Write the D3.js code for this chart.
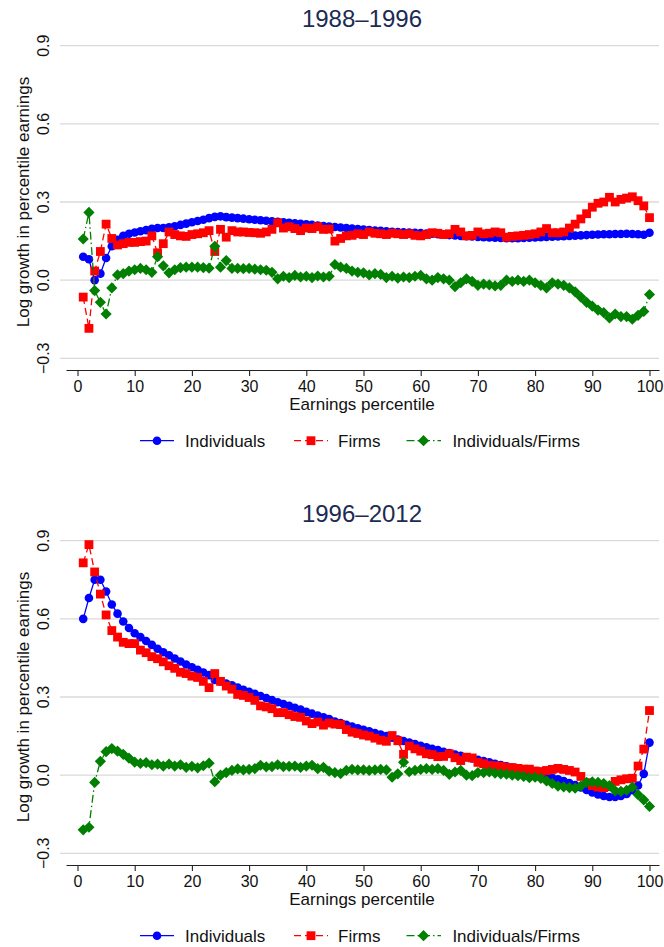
<!DOCTYPE html>
<html><head><meta charset="utf-8">
<script src="https://cdn.jsdelivr.net/npm/d3@7"></script>
<style>body{margin:0;background:#fff} svg{display:block;font-family:"Liberation Sans",Arial,Helvetica,sans-serif}</style>
</head><body><svg id="c" width="664" height="947"></svg>
<script>
const percentiles = d3.range(1, 101);
const xTicks = [0,10,20,30,40,50,60,70,80,90,100];
const yTicks = [-0.3,0,0.3,0.6,0.9];
const panelTitles = ["1988\u20131996","1996\u20132012"];
const seriesNames = ["Individuals","Firms","Individuals/Firms"];

const ind88 = [0.09,0.08,0.00,0.025,0.085,0.13,0.155,0.17,0.178,0.183,
0.188,0.192,0.197,0.2,0.2,0.203,0.207,0.212,0.217,0.222,
0.227,0.232,0.238,0.243,0.245,0.242,0.24,0.238,0.236,0.234,
0.232,0.23,0.228,0.226,0.224,0.222,0.22,0.218,0.216,0.214,
0.212,0.21,0.208,0.206,0.204,0.202,0.2,0.198,0.196,0.194,
0.192,0.19,0.189,0.188,0.186,0.185,0.184,0.183,0.182,0.181,
0.179,0.178,0.176,0.175,0.173,0.172,0.17,0.169,0.168,0.166,
0.165,0.164,0.163,0.162,0.161,0.161,0.161,0.162,0.163,0.164,
0.165,0.166,0.167,0.168,0.169,0.17,0.171,0.172,0.173,0.174,
0.175,0.176,0.176,0.177,0.177,0.178,0.177,0.176,0.174,0.182];

const firm88 = [-0.065,-0.185,0.035,0.11,0.215,0.16,0.135,0.14,0.145,0.145,
0.148,0.15,0.17,0.105,0.14,0.185,0.175,0.17,0.168,0.175,
0.178,0.182,0.19,0.11,0.195,0.165,0.19,0.185,0.185,0.183,
0.182,0.18,0.185,0.195,0.22,0.2,0.205,0.198,0.19,0.2,
0.198,0.205,0.195,0.196,0.15,0.16,0.17,0.172,0.178,0.175,
0.185,0.18,0.178,0.175,0.18,0.178,0.175,0.178,0.172,0.17,
0.175,0.182,0.18,0.175,0.178,0.195,0.185,0.17,0.172,0.185,
0.178,0.18,0.185,0.182,0.165,0.168,0.17,0.172,0.175,0.178,
0.185,0.198,0.182,0.182,0.185,0.2,0.215,0.235,0.255,0.28,
0.295,0.3,0.318,0.3,0.31,0.315,0.32,0.305,0.285,0.24];

const ratio88 = [0.158,0.26,-0.04,-0.085,-0.13,-0.03,0.02,0.025,0.035,0.04,
0.045,0.04,0.03,0.09,0.055,0.028,0.04,0.048,0.05,0.05,
0.05,0.048,0.046,0.13,0.05,0.075,0.045,0.045,0.044,0.045,
0.042,0.04,0.038,0.03,0.005,0.015,0.01,0.018,0.012,0.015,
0.01,0.016,0.012,0.015,0.06,0.05,0.045,0.035,0.03,0.028,
0.02,0.025,0.022,0.01,0.015,0.008,0.012,0.01,0.015,0.018,
0.005,0.0,0.01,0.005,0.0,-0.025,-0.01,0.005,-0.005,-0.02,
-0.015,-0.018,-0.022,-0.02,0.0,-0.005,0.0,-0.005,0.0,-0.01,
-0.02,-0.03,-0.01,-0.015,-0.02,-0.03,-0.045,-0.065,-0.085,-0.1,
-0.115,-0.125,-0.145,-0.13,-0.14,-0.14,-0.15,-0.135,-0.12,-0.055];

const ind96 = [0.6,0.68,0.75,0.75,0.705,0.655,0.62,0.59,0.565,0.545,
0.53,0.515,0.5,0.485,0.472,0.46,0.448,0.436,0.425,0.414,
0.404,0.394,0.384,0.365,0.36,0.352,0.345,0.336,0.328,0.32,
0.312,0.304,0.296,0.288,0.28,0.273,0.266,0.259,0.252,0.243,
0.236,0.229,0.222,0.215,0.206,0.2,0.193,0.187,0.18,0.174,
0.168,0.162,0.156,0.15,0.144,0.137,0.131,0.125,0.119,0.113,
0.107,0.101,0.096,0.09,0.085,0.079,0.074,0.069,0.064,0.059,
0.054,0.049,0.044,0.039,0.034,0.029,0.024,0.018,0.013,0.008,
0.002,-0.004,-0.01,-0.016,-0.023,-0.03,-0.038,-0.047,-0.057,-0.066,
-0.074,-0.08,-0.084,-0.084,-0.08,-0.072,-0.058,-0.04,0.005,0.125];

const firm96 = [0.815,0.885,0.78,0.695,0.615,0.555,0.53,0.51,0.505,0.505,
0.48,0.47,0.455,0.447,0.435,0.42,0.41,0.395,0.39,0.38,
0.375,0.36,0.336,0.39,0.36,0.342,0.33,0.31,0.306,0.298,
0.287,0.266,0.262,0.255,0.24,0.24,0.232,0.225,0.222,0.208,
0.198,0.204,0.192,0.2,0.196,0.194,0.175,0.165,0.16,0.154,
0.15,0.142,0.134,0.13,0.152,0.132,0.08,0.112,0.101,0.092,
0.082,0.079,0.071,0.072,0.082,0.067,0.056,0.069,0.066,0.049,
0.044,0.037,0.036,0.034,0.03,0.029,0.026,0.023,0.023,0.016,
0.014,0.018,0.022,0.026,0.022,0.018,0.012,-0.005,-0.029,-0.04,
-0.046,-0.048,-0.044,-0.024,-0.018,-0.014,-0.012,0.035,0.1,0.248];

const ratio96 = [-0.21,-0.2,-0.028,0.053,0.09,0.102,0.092,0.08,0.065,0.05,
0.045,0.048,0.04,0.042,0.035,0.042,0.035,0.04,0.03,0.034,
0.028,0.036,0.046,-0.025,0.0,0.01,0.018,0.024,0.02,0.022,
0.025,0.038,0.032,0.033,0.04,0.033,0.034,0.035,0.03,0.035,
0.038,0.025,0.03,0.015,0.01,0.006,0.018,0.022,0.02,0.02,
0.018,0.02,0.022,0.02,-0.008,0.005,0.05,0.013,0.018,0.022,
0.025,0.022,0.025,0.018,0.003,0.012,0.018,0.0,-0.002,0.01,
0.01,0.012,0.008,0.005,0.004,0.0,-0.002,-0.005,-0.01,-0.008,
-0.012,-0.022,-0.032,-0.042,-0.045,-0.048,-0.05,-0.042,-0.028,-0.026,
-0.028,-0.032,-0.04,-0.06,-0.062,-0.058,-0.046,-0.075,-0.095,-0.12];

const colors = ["#0000ff","#ff0000","#007f00"];
const dashes = [null,"7,4","8,3,1.5,3"];
const shapes = ["circle","square","diamond"];

const svg = d3.select("#c");
const x = d3.scaleLinear().domain([0,100]).range([77.5,649.5]);
const fmt = d3.format(".1f");

function marker(g, shape, cx, cy, col){
  if(shape==="circle") g.append("circle").attr("cx",cx).attr("cy",cy).attr("r",4.3).attr("fill",col);
  else if(shape==="square") g.append("rect").attr("x",cx-4.4).attr("y",cy-4.4).attr("width",8.8).attr("height",8.8).attr("fill",col);
  else g.append("path").attr("d",`M${cx},${cy-5.6}L${cx+5.6},${cy}L${cx},${cy+5.6}L${cx-5.6},${cy}Z`).attr("fill",col);
}

function panel(k, series){
  const dy = k*495;
  const g = svg.append("g");
  const y = d3.scaleLinear().domain([-0.3,0.9]).range([358.3+dy,45.7+dy]);
  // title
  g.append("text").attr("x",362).attr("y",26.5+dy).attr("text-anchor","middle")
   .attr("font-size",24).attr("fill","#1c2b52").text(panelTitles[k]);
  // gridlines
  g.selectAll(".grid").data(yTicks).enter().append("line")
   .attr("x1",60).attr("x2",659).attr("y1",d=>y(d)).attr("y2",d=>y(d))
   .attr("stroke","#dadada").attr("stroke-width",1.3);
  // y tick labels
  g.selectAll(".yl").data(yTicks).enter().append("text")
   .attr("transform",d=>`translate(48.5,${y(d)}) rotate(-90)`)
   .attr("text-anchor","middle").attr("font-size",16).attr("fill","#111")
   .text(d=>fmt(d));
  // y title
  g.append("text").attr("transform",`translate(28.5,${(y(-0.3)+y(0.9))/2}) rotate(-90)`)
   .attr("text-anchor","middle").attr("font-size",17).attr("fill","#111")
   .text("Log growth in percentile earnings");
  // x axis
  const ax = g.append("g").attr("transform",`translate(0,${370+dy})`)
   .call(d3.axisBottom(x).tickValues(xTicks).tickSize(6).tickPadding(4).tickSizeOuter(0));
  ax.select(".domain").attr("d","M66.5,0.5H659.5").attr("stroke","#222").attr("stroke-width",1.2);
  ax.selectAll(".tick line").attr("stroke","#222").attr("stroke-width",1.1);
  ax.selectAll(".tick text").attr("font-size",16).attr("fill","#111")
   .attr("font-family","'Liberation Sans',Arial,sans-serif").attr("dy","0.72em");
  g.append("text").attr("x",362).attr("y",409.5+dy).attr("text-anchor","middle")
   .attr("font-size",17).attr("fill","#111").text("Earnings percentile");
  // series
  series.forEach((vals,i)=>{
    const line = d3.line().x((d,j)=>x(percentiles[j])).y(d=>y(d));
    g.append("path").attr("d",line(vals)).attr("fill","none").attr("stroke",colors[i])
     .attr("stroke-width",1.3).attr("stroke-dasharray",dashes[i]);
    const mg = g.append("g");
    vals.forEach((v,j)=>marker(mg, shapes[i], x(percentiles[j]), y(v), colors[i]));
  });
  // legend
  const ly = 440.7+dy;
  const items = [{x1:140,x2:174,m:157,t:185},{x1:294,x2:328,m:311,t:338},{x1:406.5,x2:441,m:423.5,t:452.4}];
  items.forEach((it,i)=>{
    g.append("line").attr("x1",it.x1).attr("x2",it.x2).attr("y1",ly).attr("y2",ly)
     .attr("stroke",colors[i]).attr("stroke-width",1.3).attr("stroke-dasharray",dashes[i]);
    marker(g, shapes[i], it.m, ly, colors[i]);
    g.append("text").attr("x",it.t).attr("y",ly+6).attr("font-size",17).attr("fill","#111").text(seriesNames[i]);
  });
}

panel(0,[ind88,firm88,ratio88]);
panel(1,[ind96,firm96,ratio96]);
</script></body></html>
